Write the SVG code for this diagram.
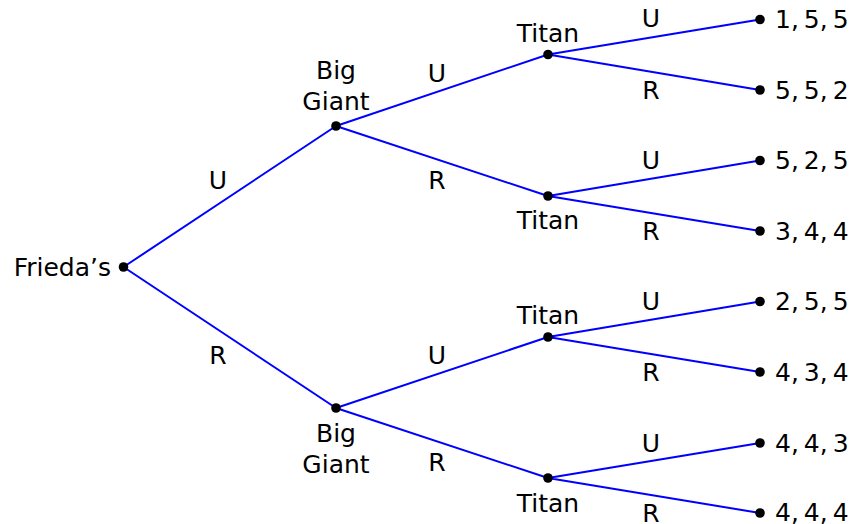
<svg xmlns="http://www.w3.org/2000/svg" width="852" height="524" viewBox="0 0 852 524">
<style>
text{font-family:"DejaVu Sans",sans-serif;font-size:25px;fill:#000}
.m{text-anchor:middle}
.e{stroke:#0000ff;stroke-width:2;fill:none}
circle{fill:#000}
</style>
<rect width="852" height="524" fill="#fff"/>
<g id="connectors">
<path class="e" d="M123.5,267L336,126M123.5,267L336,408"/>
<path class="e" d="M336,126L548,54.5M336,126L548,196M336,408L548,337M336,408L548,478"/>
<path class="e" d="M548,54.5L760,19.5M548,54.5L760,90M548,196L760,160.5M548,196L760,231M548,337L760,301.5M548,337L760,372M548,478L760,443M548,478L760,513"/>
<g class="m">
<text x="218" y="189">U</text><text x="218" y="364">R</text>
<text x="437" y="82">U</text><text x="437" y="189">R</text>
<text x="437" y="364">U</text><text x="437" y="471">R</text>
<text x="651" y="27">U</text><text x="651" y="99">R</text>
<text x="651" y="169">U</text><text x="651" y="240">R</text>
<text x="651" y="310">U</text><text x="651" y="381">R</text>
<text x="651" y="452">U</text><text x="651" y="522">R</text>
</g>
</g>
<g id="root"><circle cx="123.5" cy="267" r="4.8"/><text x="111" y="276" text-anchor="end" font-size="25.5">Frieda’s</text></g>
<g id="bg1"><circle cx="336" cy="126" r="4.8"/><text class="m" x="336" y="79">Big</text><text class="m" x="336" y="110">Giant</text></g>
<g id="bg2"><circle cx="336" cy="408" r="4.8"/><text class="m" x="336" y="442">Big</text><text class="m" x="336" y="473">Giant</text></g>
<g id="t1"><circle cx="548" cy="54.5" r="4.8"/><text class="m" x="548" y="42">Titan</text></g>
<g id="t2"><circle cx="548" cy="196" r="4.8"/><text class="m" x="548" y="229">Titan</text></g>
<g id="t3"><circle cx="548" cy="337" r="4.8"/><text class="m" x="548" y="324">Titan</text></g>
<g id="t4"><circle cx="548" cy="478" r="4.8"/><text class="m" x="548" y="512">Titan</text></g>
<g id="l1"><circle cx="760" cy="19.5" r="4.8"/><text x="775" y="28">1,&#8201;5,&#8201;5</text></g>
<g id="l2"><circle cx="760" cy="90" r="4.8"/><text x="775" y="99">5,&#8201;5,&#8201;2</text></g>
<g id="l3"><circle cx="760" cy="160.5" r="4.8"/><text x="775" y="169">5,&#8201;2,&#8201;5</text></g>
<g id="l4"><circle cx="760" cy="231" r="4.8"/><text x="775" y="240">3,&#8201;4,&#8201;4</text></g>
<g id="l5"><circle cx="760" cy="301.5" r="4.8"/><text x="775" y="310">2,&#8201;5,&#8201;5</text></g>
<g id="l6"><circle cx="760" cy="372" r="4.8"/><text x="775" y="381">4,&#8201;3,&#8201;4</text></g>
<g id="l7"><circle cx="760" cy="443" r="4.8"/><text x="775" y="452">4,&#8201;4,&#8201;3</text></g>
<g id="l8"><circle cx="760" cy="513" r="4.8"/><text x="775" y="521">4,&#8201;4,&#8201;4</text></g>
</svg>
